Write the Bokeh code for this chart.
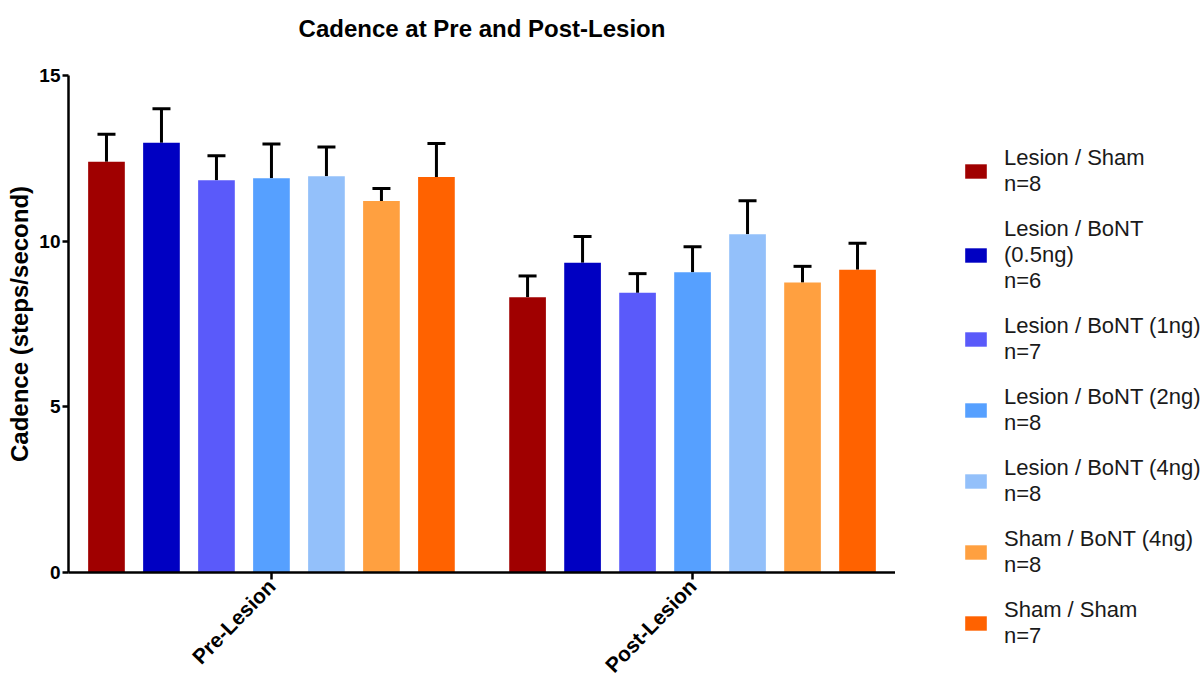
from bokeh.plotting import figure
from bokeh.layouts import row
from bokeh.models import ColumnDataSource, FactorRange, Legend, LegendItem, FixedTicker, Title
from bokeh.transform import dodge
from bokeh.embed import file_html
from bokeh.resources import INLINE

chart_title = "Cadence at Pre and Post-Lesion"
y_label = "Cadence (steps/second)"
groups = ["Pre-Lesion", "Post-Lesion"]
series = [
    "Lesion / Sham\nn=8",
    "Lesion / BoNT\n(0.5ng)\nn=6",
    "Lesion / BoNT (1ng)\nn=7",
    "Lesion / BoNT (2ng)\nn=8",
    "Lesion / BoNT (4ng)\nn=8",
    "Sham / BoNT (4ng)\nn=8",
    "Sham / Sham\nn=7",
]
colors = ["#A00000", "#0000C2", "#5A5AFA", "#56A0FF", "#93C0FA", "#FFA040", "#FF6200"]
pre_mean = [12.40, 12.97, 11.84, 11.90, 11.96, 11.21, 11.94]
pre_sem = [0.83, 1.03, 0.74, 1.03, 0.88, 0.38, 1.01]
post_mean = [8.31, 9.35, 8.44, 9.06, 10.21, 8.75, 9.14]
post_sem = [0.64, 0.79, 0.58, 0.77, 1.01, 0.49, 0.80]
y_ticks = [0, 5, 10, 15]

FONT = "Liberation Sans"

p = figure(
    width=895, height=688,
    x_range=FactorRange(*groups, range_padding=-0.018, range_padding_units="absolute"),
    y_range=(0, 15),
    output_backend="svg", toolbar_location=None,
    min_border_left=68, min_border_right=0, min_border_top=75, min_border_bottom=116,
)
p.title.text = chart_title
p.title.align = "center"
p.title.text_font = FONT
p.title.text_font_size = "24px"
p.title.text_font_style = "bold"
p.title.text_color = "black"
p.title.standoff = 10
# thin spacer between the frame and the title, to lift the title
p.add_layout(Title(text=" ", text_font_size="1px", standoff=26), "above")
p.outline_line_color = None
p.xgrid.visible = False
p.ygrid.visible = False

step = 0.1306
bar_w = 0.0871
sources = []
for i in range(len(series)):
    off = (i - 3) * step
    src = ColumnDataSource(dict(
        g=groups,
        top=[pre_mean[i], post_mean[i]],
        hi=[pre_mean[i] + pre_sem[i], post_mean[i] + post_sem[i]],
    ))
    sources.append(src)
    xs = dodge("g", off, range=p.x_range)
    p.segment(x0=xs, y0="top", x1=xs, y1="hi", source=src, line_color="black", line_width=3)
    p.rect(x=xs, y="hi", width=18, height=3, width_units="screen", height_units="screen",
           source=src, fill_color="black", line_color=None)
    p.vbar(x=xs, top="top", width=bar_w, source=src, fill_color=colors[i], line_color=None)

ya = p.yaxis[0]
ya.ticker = FixedTicker(ticks=y_ticks)
ya.axis_line_width = 2.5
ya.major_tick_line_width = 2.5
ya.major_tick_out = 6
ya.major_tick_in = 0
ya.minor_tick_line_color = None
ya.major_label_text_font = FONT
ya.major_label_text_font_style = "bold"
ya.major_label_text_font_size = "19px"
ya.major_label_text_color = "black"
ya.major_label_standoff = 2
ya.axis_label = y_label
ya.axis_label_text_font = FONT
ya.axis_label_text_font_style = "bold"
ya.axis_label_text_font_size = "24px"
ya.axis_label_text_color = "black"
ya.axis_label_standoff = 3

xa = p.xaxis[0]
xa.axis_line_width = 2.5
xa.major_tick_line_width = 2.5
xa.major_tick_out = 7
xa.major_tick_in = 0
xa.minor_tick_line_color = None
xa.major_label_orientation = 0.8
xa.major_label_text_font = FONT
xa.major_label_text_font_style = "bold"
xa.major_label_text_font_size = "21px"
xa.major_label_text_color = "black"
xa.major_label_standoff = 3

# legend panel (bars drawn far below its view, only their legend swatches show)
lg = figure(width=309, height=688, x_range=FactorRange(*groups), y_range=(100, 101),
            output_backend="svg", toolbar_location=None,
            x_axis_location=None, y_axis_location=None, min_border=0)
lg.outline_line_color = None
lg.xgrid.visible = False
lg.ygrid.visible = False
for fig in (p, lg):
    try:
        fig.frame_align = False
    except Exception:
        pass
items = []
for i in range(len(series)):
    r = lg.vbar(x="g", top="top", width=0.1, source=sources[i], fill_color=colors[i], line_color=None)
    items.append(LegendItem(label=series[i], renderers=[r]))
legend = Legend(
    items=items, location=(67, 39),
    label_text_font=FONT, label_text_font_size="22px",
    label_text_color="#1a1a1a",
    glyph_width=27, glyph_height=18, label_standoff=15, spacing=19,
    padding=0, margin=0, border_line_color=None, background_fill_alpha=0,
)
lg.add_layout(legend)

open("out.html", "w").write(file_html(row(p, lg), INLINE))
